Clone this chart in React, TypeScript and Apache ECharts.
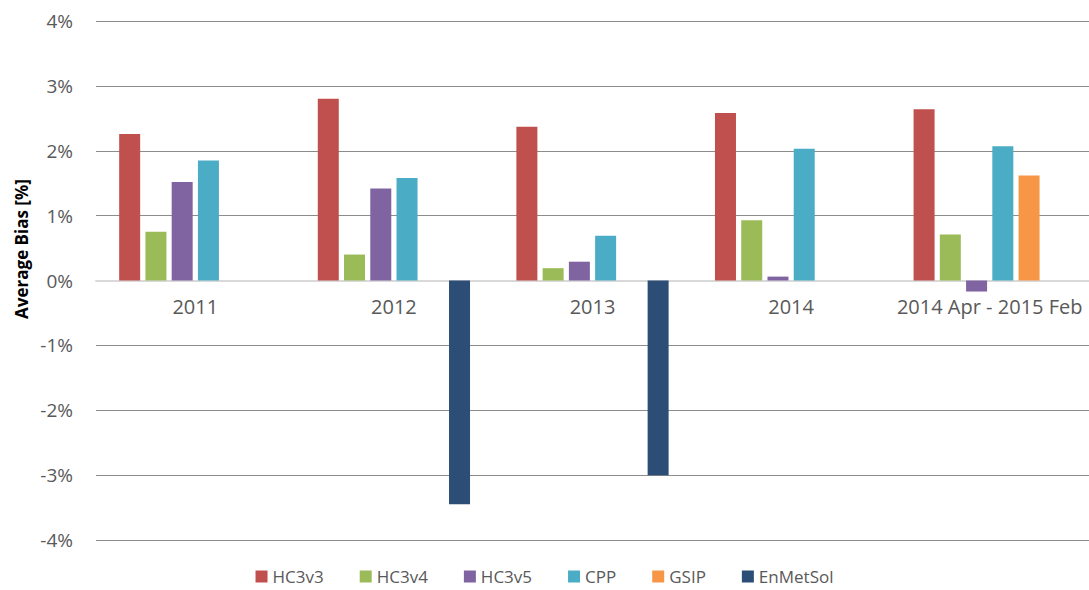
import React, { useEffect, useRef } from "react";
import * as echarts from "echarts";

const categories = ["2011", "2012", "2013", "2014", "2014 Apr - 2015 Feb"];
const hc3v3 = [2.26, 2.8, 2.37, 2.58, 2.64];
const hc3v4 = [0.75, 0.4, 0.19, 0.93, 0.71];
const hc3v5 = [1.52, 1.42, 0.29, 0.06, -0.17];
const cpp = [1.85, 1.58, 0.69, 2.03, 2.07];
const gsip = [null, null, null, null, 1.62];
const enmetsol = [null, -3.45, -3.0, null, null];
const yTicks = [-4, -3, -2, -1, 0, 1, 2, 3, 4];

const seriesDefs = [
  { name: "HC3v3", data: hc3v3, color: "#C0504D" },
  { name: "HC3v4", data: hc3v4, color: "#9BBB59" },
  { name: "HC3v5", data: hc3v5, color: "#8064A2" },
  { name: "CPP", data: cpp, color: "#4BACC6" },
  { name: "GSIP", data: gsip, color: "#F79646" },
  { name: "EnMetSol", data: enmetsol, color: "#2C4D75" },
];

const FONT = "'Open Sans', 'Noto Sans', sans-serif";
const TOP = 21;
const BOTTOM = 50;
const H = 590;

export default function App() {
  const ref = useRef<HTMLDivElement>(null);
  useEffect(() => {
    if (!ref.current) return;
    const chart = echarts.init(ref.current, undefined, { renderer: "svg" });
    const plotH = H - TOP - BOTTOM;
    const yMin = yTicks[0];
    const yMax = yTicks[yTicks.length - 1];
    const zeroOffset = -plotH * (0 - yMin) / (yMax - yMin);
    const splitColors = yTicks.map((t) => (t === 0 ? "#D9D9D9" : "#8C8C8C"));
    chart.setOption({
      animation: false,
      grid: { left: 96, right: 0, top: TOP, bottom: BOTTOM, containLabel: false },
      legend: {
        bottom: 0,
        left: "center",
        itemWidth: 12,
        itemHeight: 12,
        itemGap: 36,
        icon: "rect",
        textStyle: { color: "#595959", fontSize: 17, fontFamily: FONT },
        data: seriesDefs.map((s) => s.name),
      },
      graphic: [
        {
          type: "text",
          x: 21,
          y: 249,
          rotation: Math.PI / 2,
          style: {
            text: "Average Bias [%]",
            fill: "#000",
            font: `bold 17px ${FONT}`,
            align: "center",
            verticalAlign: "middle",
          },
        },
      ],
      xAxis: {
        type: "category",
        data: categories,
        position: "bottom",
        offset: zeroOffset,
        axisLine: { onZero: false, lineStyle: { color: "#D9D9D9", width: 2 } },
        axisTick: { show: false },
        axisLabel: { color: "#595959", fontSize: 20, fontFamily: FONT, margin: 16, interval: 0 },
        splitLine: { show: false },
      },
      yAxis: {
        type: "value",
        min: yMin,
        max: yMax,
        interval: 1,
        axisLine: { show: false },
        axisTick: { show: false },
        axisLabel: {
          color: "#595959",
          fontSize: 19,
          fontFamily: FONT,
          margin: 23,
          formatter: (v: number) => `${v}%`,
        },
        splitLine: { lineStyle: { color: splitColors, width: 1 } },
      },
      series: seriesDefs.map((s) => ({
        name: s.name,
        type: "bar",
        data: s.data,
        barWidth: 21,
        barGap: "25%",
        itemStyle: { color: s.color },
      })),
    });
    return () => chart.dispose();
  }, []);
  return <div ref={ref} style={{ width: 1089, height: 590, position: "absolute", left: 0, top: 0 }} />;
}
